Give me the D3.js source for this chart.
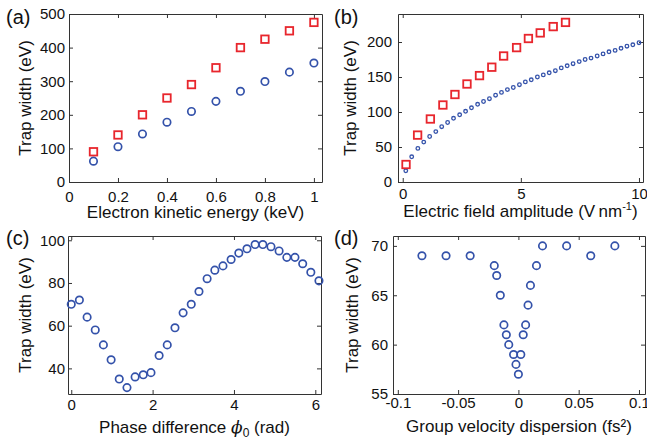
<!DOCTYPE html>
<html>
<head>
<meta charset="utf-8">
<script src="https://cdn.jsdelivr.net/npm/d3@7"></script>
<style>
  body { margin: 0; background: #fff; }
  svg { font-family: "Liberation Sans", Arial, sans-serif; }
  .tick text { font-size: 15px; fill: #111; }
</style>
</head>
<body>
<svg width="647" height="443"></svg>
<script>
// (a) trap width vs electron kinetic energy
var energyKeV = [0.1, 0.2, 0.3, 0.4, 0.5, 0.6, 0.7, 0.8, 0.9, 1.0];
var widthA_blue = [62, 105, 143, 178, 210, 240, 270, 299, 327, 354];
var widthA_red = [90, 140, 200, 250, 290, 340, 400, 425, 450, 475];

// (b) trap width vs field amplitude
var fieldRed = [0.14, 0.63, 1.17, 1.70, 2.21, 2.72, 3.25, 3.77, 4.27, 4.82, 5.32, 5.82, 6.37, 6.89];
var widthB_red = [25, 67, 90, 110, 125, 140, 152, 164, 180, 192, 205, 213, 222, 228];
var fieldBlue = [0.13, 0.38, 0.64, 0.89, 1.14, 1.40, 1.65, 1.90, 2.15, 2.41, 2.66, 2.91, 3.17, 3.42,
  3.67, 3.93, 4.18, 4.43, 4.68, 4.94, 5.19, 5.44, 5.70, 5.95, 6.20, 6.46, 6.71, 6.96, 7.21, 7.47,
  7.72, 7.97, 8.23, 8.48, 8.73, 8.99, 9.24, 9.49, 9.74, 10.0];
var widthB_blue = [16, 36, 48, 57, 65, 72, 79, 85, 91, 96, 101, 106, 111, 115, 119, 124, 128, 132,
  135, 139, 143, 146, 150, 153, 156, 159, 163, 166, 169, 172, 175, 177, 180, 183, 186, 188, 191,
  194, 196, 199];

// (c) trap width vs phase difference
var phase = [0, 0.20, 0.39, 0.59, 0.79, 0.98, 1.18, 1.37, 1.57, 1.77, 1.96, 2.16, 2.36, 2.55, 2.75,
  2.95, 3.14, 3.34, 3.53, 3.73, 3.93, 4.12, 4.32, 4.52, 4.71, 4.91, 5.11, 5.30, 5.50, 5.69, 5.89, 6.09];
var widthC = [70, 72, 64, 58, 51, 44, 35, 31, 36, 37, 38, 46, 51, 59, 66, 70, 76, 82, 86, 88, 91,
  94, 96, 98, 98, 97, 95, 92, 92, 89, 85, 81];

// (d) trap width vs GVD
var gvd = [-0.08, -0.06, -0.04, -0.02, -0.018, -0.015, -0.012, -0.01, -0.008, -0.004, -0.002, 0,
  0.002, 0.004, 0.006, 0.008, 0.01, 0.015, 0.02, 0.04, 0.06, 0.08];
var widthD = [69, 69, 69, 68, 67, 65, 62, 61, 60, 59, 58, 57, 59, 61, 62, 64, 66, 68, 70, 70, 69, 70];

var ticksA_x = [0, 0.2, 0.4, 0.6, 0.8, 1], ticksA_y = [0, 100, 200, 300, 400, 500];
var ticksB_x = [0, 5, 10], ticksB_y = [0, 50, 100, 150, 200];
var ticksC_x = [0, 2, 4, 6], ticksC_y = [40, 60, 80, 100];
var ticksD_x = [-0.1, -0.05, 0, 0.05, 0.1], ticksD_y = [55, 60, 65, 70];

var BLUE = "#3452aa", RED = "#e8262d";

var svg = d3.select("svg");

function panel(o) {
  var g = svg.append("g");
  var x = d3.scaleLinear().domain(o.xd).range([o.l, o.r]);
  var y = d3.scaleLinear().domain(o.yd).range([o.b, o.t]);
  var fmt = o.fmt || function(d) { return d; };

  g.append("g").attr("transform", "translate(0," + o.b + ")")
    .call(d3.axisBottom(x).tickValues(o.xt).tickFormat(fmt).tickSizeInner(-4).tickSizeOuter(0).tickPadding(o.xpad));
  g.append("g").attr("transform", "translate(0," + o.t + ")")
    .call(d3.axisTop(x).tickValues(o.xt).tickFormat("").tickSizeInner(-4).tickSizeOuter(0));
  g.append("g").attr("transform", "translate(" + o.l + ",0)")
    .call(d3.axisLeft(y).tickValues(o.yt).tickSizeInner(-4).tickSizeOuter(0).tickPadding(o.ypad));
  g.append("g").attr("transform", "translate(" + o.r + ",0)")
    .call(d3.axisRight(y).tickValues(o.yt).tickFormat("").tickSizeInner(-4).tickSizeOuter(0));
  g.selectAll(".domain").attr("stroke", "#333");
  g.selectAll(".tick line").attr("stroke", "#333");

  g.append("text")
    .attr("transform", "translate(" + (o.l - o.ylOff) + "," + ((o.t + o.b) / 2) + ") rotate(-90)")
    .attr("text-anchor", "middle").attr("font-size", 17).attr("fill", "#111")
    .text("Trap width (eV)");

  g.append("text").attr("x", o.lx).attr("y", o.ly).attr("font-size", 20).attr("fill", "#111")
    .text(o.letter);

  var xl = g.append("text").attr("x", (o.l + o.r) / 2).attr("y", o.b + o.xlOff)
    .attr("text-anchor", "middle").attr("font-size", 17).attr("fill", "#111");
  o.xlabel(xl);

  g.x = x; g.y = y;
  return g;
}

function circles(g, xs, ys, r, sw) {
  g.append("g").selectAll("circle").data(xs).enter().append("circle")
    .attr("cx", function(d) { return g.x(d); })
    .attr("cy", function(d, i) { return g.y(ys[i]); })
    .attr("r", r).attr("fill", "none").attr("stroke", BLUE).attr("stroke-width", sw);
}

function squares(g, xs, ys, s) {
  g.append("g").selectAll("rect").data(xs).enter().append("rect")
    .attr("x", function(d) { return g.x(d) - s / 2; })
    .attr("y", function(d, i) { return g.y(ys[i]) - s / 2; })
    .attr("width", s).attr("height", s)
    .attr("fill", "none").attr("stroke", RED).attr("stroke-width", 1.8);
}

var pa = panel({ l: 69, r: 322, t: 14, b: 182, xd: [0, 1.033], yd: [0, 500],
  xt: ticksA_x, yt: ticksA_y, letter: "(a)", lx: 6, ly: 24,
  xpad: 9, ypad: 4, ylOff: 38, xlOff: 36,
  xlabel: function(t) { t.text("Electron kinetic energy (keV)"); } });
circles(pa, energyKeV, widthA_blue, 3.7, 1.7);
squares(pa, energyKeV, widthA_red, 7.5);

var pb = panel({ l: 398, r: 643, t: 14, b: 182, xd: [-0.2, 10.17], yd: [0, 240],
  xt: ticksB_x, yt: ticksB_y, letter: "(b)", lx: 334, ly: 24,
  xpad: 6, ypad: 6, ylOff: 42, xlOff: 35,
  xlabel: function(t) {
    t.append("tspan").text("Electric field amplitude (V\u2009nm");
    t.append("tspan").attr("font-size", 11).attr("dy", -7).text("-1");
    t.append("tspan").attr("dy", 7).text(")");
  } });
circles(pb, fieldBlue, widthB_blue, 1.8, 1.3);
squares(pb, fieldRed, widthB_red, 7.5);

var pc = panel({ l: 68, r: 321, t: 236, b: 394, xd: [-0.08, 6.14], yd: [28, 102],
  xt: ticksC_x, yt: ticksC_y, letter: "(c)", lx: 6, ly: 245,
  xpad: 5, ypad: 3, ylOff: 37, xlOff: 39,
  xlabel: function(t) {
    t.append("tspan").text("Phase difference  ");
    t.append("tspan").attr("font-style", "italic").attr("font-family", "DejaVu Serif").text("\u03d5");
    t.append("tspan").attr("font-size", 12).attr("dy", 4).text("0");
    t.append("tspan").attr("dy", -4).text(" (rad)");
  } });
circles(pc, phase, widthC, 3.7, 1.7);

var pd = panel({ l: 393, r: 645, t: 236, b: 394, xd: [-0.104, 0.105], yd: [55, 71],
  xt: ticksD_x, yt: ticksD_y, letter: "(d)", lx: 334, ly: 245,
  xpad: 3, ypad: 5, ylOff: 35, xlOff: 38,
  fmt: function(d) { return d === 0 ? "0" : String(d); },
  xlabel: function(t) { t.text("Group velocity dispersion (fs\u00b2)"); } });
circles(pd, gvd, widthD, 3.7, 1.7);
</script>
</body>
</html>
